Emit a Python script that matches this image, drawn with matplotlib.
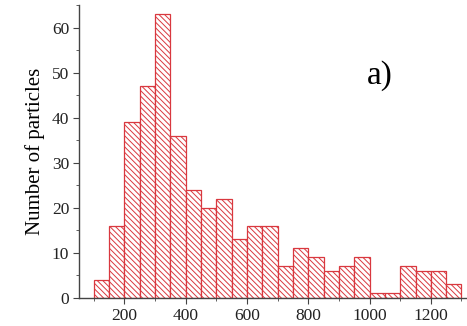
import numpy as np
import matplotlib.pyplot as plt
from matplotlib.ticker import MultipleLocator

# histogram bins (nm), width 50
bin_edges = [100, 150, 200, 250, 300, 350, 400, 450, 500, 550, 600, 650, 700,
             750, 800, 850, 900, 950, 1000, 1050, 1100, 1150, 1200, 1250, 1300]
counts = [4, 16, 39, 47, 63, 36, 24, 20, 22, 13, 16, 16,
          7, 11, 9, 6, 7, 9, 1, 1, 7, 6, 6, 3]

plt.rcParams['font.family'] = ['Liberation Serif', 'DejaVu Serif']
plt.rcParams['hatch.color'] = '#e07078'
plt.rcParams['hatch.linewidth'] = 0.7

fig = plt.figure(figsize=(4.67, 3.26), dpi=100)
ax = fig.add_axes([79 / 467, 28 / 326, 388 / 467, 293 / 326])

left = np.array(bin_edges[:-1])
widths = np.diff(bin_edges)
ax.bar(left, counts, width=widths, align='edge', facecolor='white',
       edgecolor='#d9383f', linewidth=0.9, hatch='\\' * 6)

ax.set_xlim(52, 1318)
ax.set_ylim(0, 65)
ax.spines['top'].set_visible(False)
ax.spines['right'].set_visible(False)
for s in ['left', 'bottom']:
    ax.spines[s].set_color('#444444')
    ax.spines[s].set_linewidth(1.0)

ax.xaxis.set_major_locator(MultipleLocator(200))
ax.xaxis.set_minor_locator(MultipleLocator(100))
ax.yaxis.set_major_locator(MultipleLocator(10))
ax.yaxis.set_minor_locator(MultipleLocator(5))
ax.tick_params(which='major', length=4, color='#444444', labelsize=12.5,
               labelcolor='#222222', pad=3)
ax.tick_params(which='minor', length=2.5, color='#444444')

ax.set_ylabel('Number of particles', fontsize=15, labelpad=5)
ax.text(0.775, 0.76, 'a)', fontsize=24, ha='center', va='center',
        transform=ax.transAxes)

fig.savefig('out.png', dpi=100)
